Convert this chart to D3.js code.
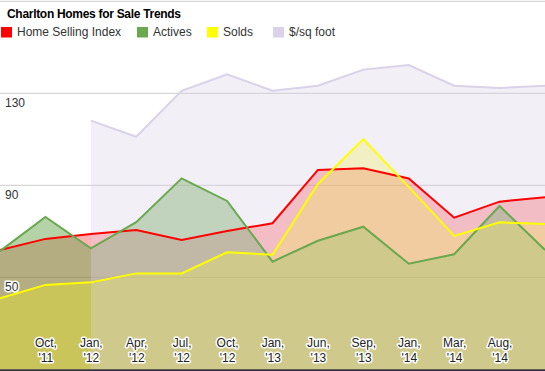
<!DOCTYPE html>
<html>
<head>
<meta charset="utf-8">
<script src="https://cdn.jsdelivr.net/npm/d3@7/dist/d3.min.js"></script>
<style>
  html, body { margin: 0; padding: 0; background: #fff; overflow: hidden; }
  svg { display: block; font-family: "Liberation Sans", Arial, sans-serif; }
  .halo { paint-order: stroke; stroke: #fff; stroke-width: 3px; stroke-linejoin: round; }
</style>
</head>
<body>
<svg id="chart" width="545" height="371"></svg>
<script>
// ---- data ----
const tickLabels = ["", "Oct, '11", "Jan, '12", "Apr, '12", "Jul, '12", "Oct, '12", "Jan, '13", "Jun, '13", "Sep, '13", "Jan, '14", "Mar, '14", "Aug, '14", ""];
const homeSellingIndex = [61.9, 66.7, 68.8, 70.6, 66.2, 70.1, 73.5, 96.7, 97.4, 93.0, 75.9, 82.9, 84.8];
const actives          = [61.4, 76.2, 62.6, 74.0, 93.0, 83.2, 56.8, 65.9, 72.0, 55.9, 60.0, 81.0, 61.9];
const solds            = [40.9, 46.7, 47.8, 51.7, 51.7, 60.9, 59.8, 90.6, 110.1, 89.3, 68.0, 73.9, 73.2];
const pricePerSqFt     = [null, null, 118.1, 111.1, 131.1, 138.3, 131.1, 133.3, 140.3, 142.3, 133.3, 132.3, 133.3];
const yTickValues = [10, 50, 90, 130, 170];
const yTickLabels = [50, 90, 130];

const seriesNames = ["Home Selling Index", "Actives", "Solds", "$/sq foot"];
const seriesData = [homeSellingIndex, actives, solds, pricePerSqFt];
const seriesColors = ["#ff0000", "#6aa84f", "#ffff00", "#d9d2e9"];
const fillOpacities = [0.3, 0.5, 0.3, 0.35];

// ---- layout ----
const W = 545, H = 371;
const svg = d3.select("#chart");

const x = d3.scalePoint().domain(d3.range(tickLabels.length)).range([0, W]);
const y = d3.scaleLinear().domain([10, 170]).range([369.3, 1.3]);

// gridlines
svg.append("g").selectAll("line").data(yTickValues.filter(v => v !== 10)).join("line")
  .attr("x1", 0).attr("x2", W)
  .attr("y1", d => y(d)).attr("y2", d => y(d))
  .attr("stroke", "#cccccc").attr("stroke-width", 1);

// areas
const plot = svg.append("g");
seriesData.forEach((vals, si) => {
  const area = d3.area()
    .defined(d => d != null)
    .x((d, i) => x(i))
    .y0(y(10))
    .y1(d => y(d));
  plot.append("path")
    .datum(vals)
    .attr("d", area)
    .attr("fill", seriesColors[si])
    .attr("fill-opacity", fillOpacities[si]);
});
// lines
seriesData.forEach((vals, si) => {
  const line = d3.line()
    .defined(d => d != null)
    .x((d, i) => x(i))
    .y(d => y(d));
  plot.append("path")
    .datum(vals)
    .attr("d", line)
    .attr("fill", "none")
    .attr("stroke", seriesColors[si])
    .attr("stroke-width", 2)
    .attr("stroke-linejoin", "miter");
});

// bottom axis line
svg.append("line")
  .attr("x1", 0).attr("x2", W)
  .attr("y1", y(10) + 0.9).attr("y2", y(10) + 0.9)
  .attr("stroke", "#333").attr("stroke-width", 2);

// x axis labels
const xAxis = d3.axisBottom(x)
  .tickValues(d3.range(1, tickLabels.length - 1))
  .tickSize(0)
  .tickFormat(i => tickLabels[i]);
const xg = svg.append("g").attr("transform", "translate(0,334)").call(xAxis);
xg.select(".domain").remove();
xg.selectAll(".tick text").each(function(i) {
  const t = d3.select(this);
  const parts = tickLabels[i].split(" ");
  t.text(null)
    .attr("y", 0).attr("dy", null)
    .attr("class", "halo")
    .attr("fill", "#222")
    .style("font-size", "12px")
    .style("font-family", "\"Liberation Sans\", Arial, sans-serif");
  t.append("tspan").attr("x", 0).attr("y", 12.5).text(parts[0]);
  t.append("tspan").attr("x", 0).attr("y", 27.7).text(parts[1]);
});

// y axis labels (inside plot, below gridline)
const yAxis = d3.axisRight(y).tickValues(yTickLabels).tickSize(0).tickFormat(d3.format("d"));
const yg = svg.append("g").attr("transform", "translate(5,0)").call(yAxis);
yg.select(".domain").remove();
yg.selectAll(".tick text")
  .attr("x", 0).attr("dy", null).attr("y", 13.5)
  .attr("text-anchor", "start")
  .attr("class", "halo")
  .attr("fill", "#333")
  .style("font-size", "12px")
  .style("font-family", "\"Liberation Sans\", Arial, sans-serif");

// title
svg.append("text")
  .attr("x", 7).attr("y", 17.5)
  .attr("font-size", 12).attr("font-weight", "bold")
  .attr("letter-spacing", "-0.3")
  .attr("fill", "#000")
  .text("Charlton Homes for Sale Trends");

// legend
const legendX = [1, 137, 207, 273];
const lg = svg.append("g");
seriesNames.forEach((name, i) => {
  lg.append("rect")
    .attr("x", legendX[i]).attr("y", 27)
    .attr("width", 11).attr("height", 10.5)
    .attr("fill", seriesColors[i]);
  lg.append("text")
    .attr("x", legendX[i] + 16).attr("y", 36.2)
    .attr("font-size", 12)
    .attr("fill", "#333")
    .text(name);
});
</script>
</body>
</html>
